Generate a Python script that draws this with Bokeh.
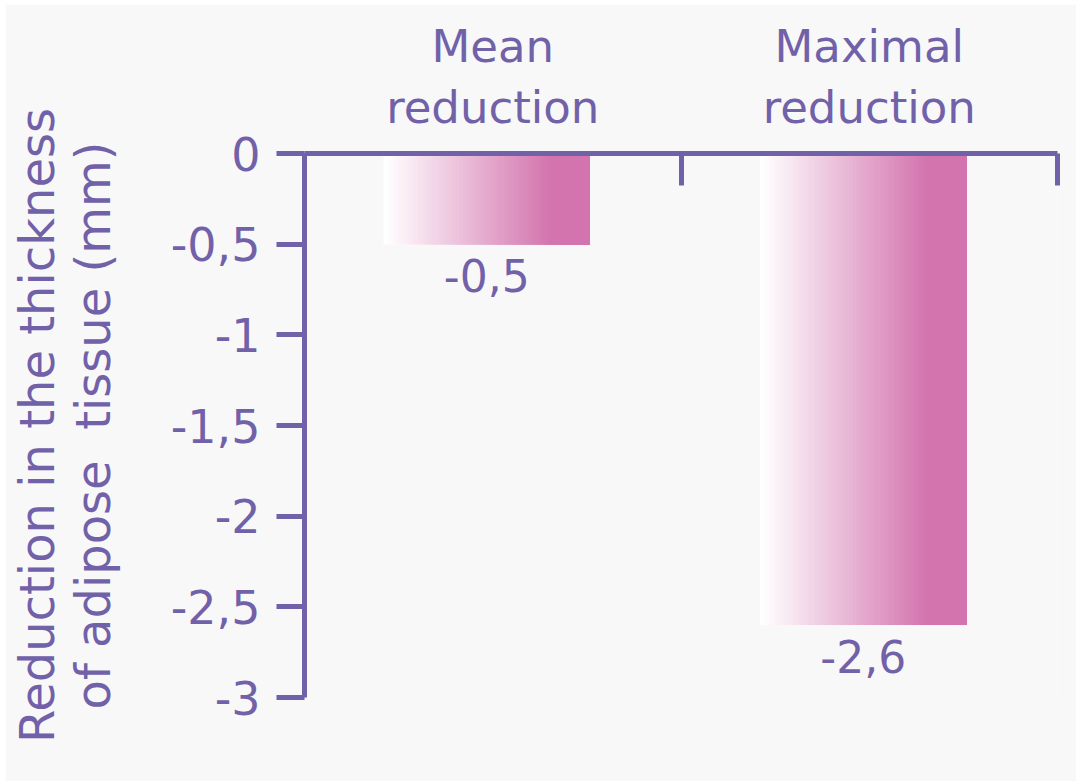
from bokeh.plotting import figure
from bokeh.models import (Range1d, LinearAxis, FixedTicker, CustomJSTickFormatter,
                          ColumnDataSource)
from bokeh.core.properties import value
from bokeh.embed import file_html
from bokeh.resources import INLINE

# --- data -------------------------------------------------------------
categories = ["Mean\nreduction", "Maximal\nreduction"]
values = [-0.5, -2.6]
y_ticks = [0, -0.5, -1, -1.5, -2, -2.5, -3]
y_label = "Reduction in the thickness\nof adipose \u00a0tissue (mm)"

# --- style ------------------------------------------------------------
PURPLE = "#7161a9"
PINK = (211, 116, 174)
BG = "#f8f8f8"
FONT = "DejaVu Sans"
BAR_WIDTH = 0.548
BAR_SHIFT = -0.016
N_SLICES = 60
GRAD_END = 0.8  # fraction of the bar width where the fade reaches full pink

p = figure(width=1071, height=777, output_backend="svg", toolbar_location=None,
           x_range=Range1d(0, len(categories)), y_range=Range1d(min(y_ticks), 0),
           x_axis_location=None, y_axis_location=None,
           min_border_left=298, min_border_top=149, min_border_right=19,
           min_border_bottom=84)
p.margin = (4, 0, 0, 5)
p.background_fill_color = BG
p.border_fill_color = BG
p.outline_line_color = None
p.xgrid.visible = False
p.ygrid.visible = False

# --- bars with a white-to-pink horizontal fade --------------------------
left, right, bottom, top, colors = [], [], [], [], []
for i, v in enumerate(values):
    cx = i + 0.5 + BAR_SHIFT
    x0, x1 = cx - BAR_WIDTH / 2, cx + BAR_WIDTH / 2
    for k in range(N_SLICES):
        f = k / N_SLICES
        t = min(f / GRAD_END, 1.0)
        r = int(round(255 + (PINK[0] - 255) * t))
        g = int(round(255 + (PINK[1] - 255) * t))
        b = int(round(255 + (PINK[2] - 255) * t))
        # each slice runs to the bar's right edge; later slices cover earlier ones
        left.append(x0 + f * (x1 - x0))
        right.append(x1)
        bottom.append(v)
        top.append(0)
        colors.append("#%02x%02x%02x" % (r, g, b))
p.quad(left="left", right="right", bottom="bottom", top="top", color="color",
       line_color=None,
       source=ColumnDataSource(dict(left=left, right=right, bottom=bottom,
                                    top=top, color=colors)))

# --- value labels -----------------------------------------------------
lab = ColumnDataSource(dict(
    x=[i + 0.5 + BAR_SHIFT for i in range(len(values))],
    y=values,
    text=[f"{v}".replace(".", ",") for v in values]))
p.text(x="x", y="y", text="text", source=lab, text_align="center",
       text_baseline="top", y_offset=15, text_font=value(FONT),
       text_font_size="44px", text_color=PURPLE)

# --- left axis --------------------------------------------------------
yax = LinearAxis(ticker=FixedTicker(ticks=y_ticks),
                 formatter=CustomJSTickFormatter(code="return tick.toString().replace('.', ',');"))
yax.axis_line_color = PURPLE
yax.axis_line_width = 5
yax.major_tick_line_color = PURPLE
yax.major_tick_line_width = 5
yax.major_tick_in = 0
yax.major_tick_out = 28
yax.minor_tick_line_color = None
yax.major_label_text_font = FONT
yax.major_label_text_font_size = "46px"
yax.major_label_text_color = PURPLE
yax.major_label_standoff = 16
yax.axis_label = y_label
yax.axis_label_text_font = FONT
yax.axis_label_text_font_size = "48px"
yax.axis_label_text_font_style = "normal"
yax.axis_label_text_color = PURPLE
yax.axis_label_text_line_height = 1.0
yax.axis_label_standoff = 47
p.add_layout(yax, "left")

# --- top axis with category names ---------------------------------------
xax = LinearAxis(ticker=FixedTicker(ticks=[i + 0.5 for i in range(len(categories))],
                                    minor_ticks=list(range(len(categories) + 1))),
                 formatter=CustomJSTickFormatter(args=dict(labels=categories),
                                                 code="return labels[Math.floor(tick)];"))
xax.axis_line_color = PURPLE
xax.axis_line_width = 5
xax.major_tick_line_color = None
xax.minor_tick_line_color = PURPLE
xax.minor_tick_line_width = 5
xax.minor_tick_in = 32
xax.minor_tick_out = 0
xax.major_label_text_font = FONT
xax.major_label_text_font_size = "45px"
xax.major_label_text_color = PURPLE
xax.major_label_text_line_height = 1.15
xax.major_label_standoff = 14
xax.major_label_orientation = "horizontal"
p.add_layout(xax, "above")

open("out.html", "w").write(file_html(p, INLINE))
